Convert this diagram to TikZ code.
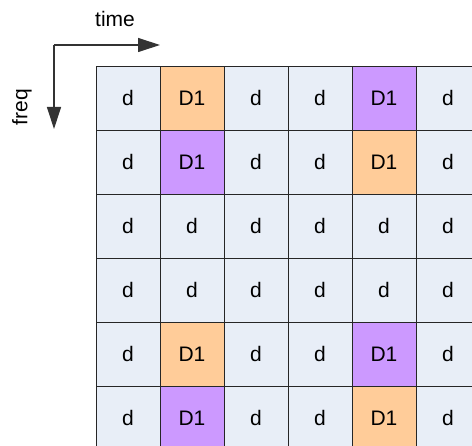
\documentclass[tikz,border=0pt]{standalone}
\usepackage{fontspec}
\setmainfont{Liberation Sans}
\usetikzlibrary{arrows.meta}
\definecolor{cellblue}{RGB}{232,238,247}
\definecolor{cellorange}{RGB}{255,204,153}
\definecolor{cellpurple}{RGB}{204,153,255}
\tikzstyle{cell} = [rectangle, minimum width=64pt, minimum height=64pt, inner sep=0pt, draw=black!85, line width=0.8pt, font=\fontsize{21}{24}\selectfont]
\tikzstyle{axis} = [line width=1.2pt, draw=black!80, -{Triangle[length=22pt,width=14pt]}]
\tikzstyle{axislabel} = [font=\fontsize{21}{24}\selectfont]

\begin{document}
\begin{tikzpicture}[x=1pt, y=-1pt]
	\useasboundingbox (0,0) rectangle (472,446);

	% Grid
	\foreach \c/\f/\t in {1/cellblue/d, 2/cellorange/D1, 3/cellblue/d, 4/cellblue/d, 5/cellpurple/D1, 6/cellblue/d}
		\node (c1\c) [cell, fill=\f] at (64+64*\c, 98) {\t};
	\foreach \c/\f/\t in {1/cellblue/d, 2/cellpurple/D1, 3/cellblue/d, 4/cellblue/d, 5/cellorange/D1, 6/cellblue/d}
		\node (c2\c) [cell, fill=\f] at (64+64*\c, 162) {\t};
	\foreach \c in {1,...,6}
		\node (c3\c) [cell, fill=cellblue] at (64+64*\c, 226) {d};
	\foreach \c in {1,...,6}
		\node (c4\c) [cell, fill=cellblue] at (64+64*\c, 290) {d};
	\foreach \c/\f/\t in {1/cellblue/d, 2/cellorange/D1, 3/cellblue/d, 4/cellblue/d, 5/cellpurple/D1, 6/cellblue/d}
		\node (c5\c) [cell, fill=\f] at (64+64*\c, 354) {\t};
	\foreach \c/\f/\t in {1/cellblue/d, 2/cellpurple/D1, 3/cellblue/d, 4/cellblue/d, 5/cellorange/D1, 6/cellblue/d}
		\node (c6\c) [cell, fill=\f] at (64+64*\c, 418) {\t};

	% Axes
	\coordinate (origin) at (54,45);
	\coordinate (timeend) at (160,45);
	\coordinate (freqend) at (54,129);
	\node (time) [axislabel] at (115,19) {time};
	\node (freq) [axislabel, rotate=90] at (22,107) {freq};
	\draw [axis] (origin) -- (timeend);
	\draw [axis] (origin) -- (freqend);

\end{tikzpicture}
\end{document}
